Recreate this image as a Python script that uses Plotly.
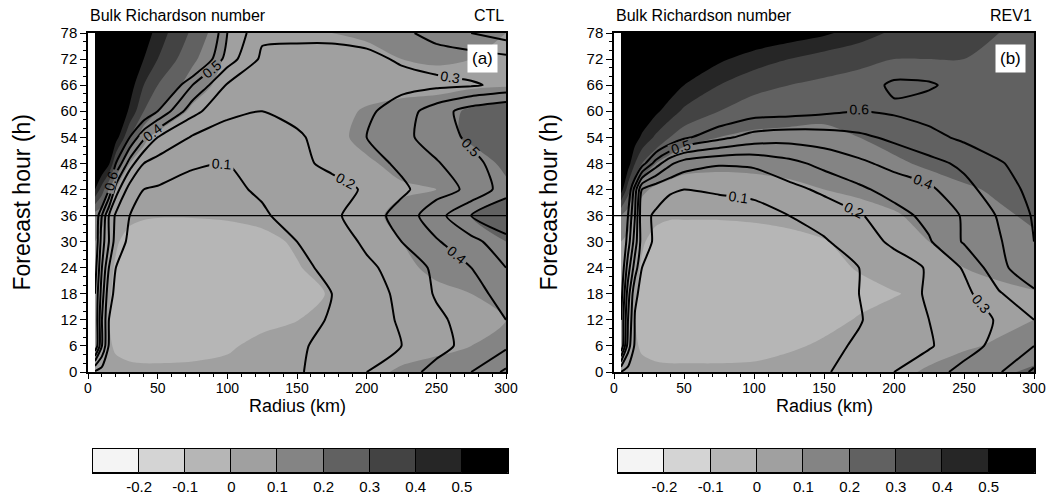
import plotly.graph_objects as go

# ---------------- data ----------------
radius_km = [5, 10, 15, 20, 30, 40, 50, 75, 100, 125, 150, 175, 200, 225, 250, 275, 300]
forecast_hour = [0, 6, 12, 18, 24, 30, 36, 42, 48, 54, 60, 66, 72, 78]

# CTL shaded field (rows = forecast_hour, cols = radius_km)
ctl_shade = [
    [.05, .04, .02, .02, .02, .02, .02, .02, .02, .03, .04, .05, .08, .11, .13, .16, .20],
    [.05, .04, .01, -.01, -.03, -.04, -.04, -.03, -.01, .02, .04, .05, .06, .07, .08, .10, .13],
    [.06, .04, .00, -.02, -.04, -.05, -.05, -.05, -.03, -.02, -.002, .03, .05, .06, .07, .08, .10],
    [.07, .05, .01, -.02, -.05, -.06, -.06, -.06, -.05, -.04, -.02, .005, .04, .07, .09, .10, .12],
    [.08, .06, .02, -.01, -.04, -.06, -.06, -.06, -.05, -.03, -.005, .03, .06, .09, .11, .13, .15],
    [.10, .08, .05, .01, -.03, -.05, -.05, -.05, -.04, -.02, .01, .04, .07, .10, .13, .16, .20],
    [.15, .12, .08, .05, .02, .01, .005, .005, .01, .02, .04, .06, .08, .12, .16, .20, .24],
    [.50, .35, .20, .10, .06, .05, .05, .04, .04, .04, .05, .06, .07, .09, .10, .13, .18],
    [.70, .62, .52, .30, .10, .06, .06, .05, .05, .05, .06, .07, .09, .12, .12, .15, .22],
    [.75, .70, .65, .55, .30, .12, .07, .05, .05, .05, .06, .08, .12, .14, .16, .22, .26],
    [.80, .75, .70, .62, .48, .30, .20, .08, .05, .05, .05, .07, .11, .14, .15, .22, .26],
    [.80, .78, .75, .70, .55, .40, .30, .15, .06, .05, .05, .05, .06, .06, .07, .08, .09],
    [.80, .80, .78, .75, .62, .50, .40, .22, .08, .05, .06, .07, .08, .10, .11, .10, .09],
    [.85, .85, .82, .80, .70, .58, .45, .28, .10, .06, .08, .10, .11, .12, .12, .12, .10],
]

# CTL contoured field (black lines)
ctl_lines = [
    [.08, .05, .04, .04, .04, .04, .04, .05, .06, .07, .09, .14, .20, .26, .33, .40, .52],
    [.60, .30, .09, .05, .04, .04, .04, .05, .06, .07, .09, .12, .16, .20, .27, .33, .38],
    [.60, .30, .10, .06, .05, .05, .05, .05, .06, .07, .08, .105, .16, .21, .28, .34, .40],
    [.60, .35, .13, .08, .06, .05, .05, .05, .06, .07, .08, .10, .16, .22, .31, .37, .43],
    [.65, .40, .20, .10, .07, .06, .06, .06, .06, .07, .08, .12, .18, .24, .32, .40, .50],
    [.70, .45, .30, .15, .08, .07, .07, .07, .07, .08, .10, .14, .22, .30, .39, .47, .56],
    [.70, .50, .30, .18, .10, .08, .08, .08, .08, .09, .13, .18, .25, .34, .46, .60, .70],
    [.90, .80, .60, .35, .15, .10, .09, .085, .085, .11, .14, .17, .21, .28, .36, .42, .55],
    [.95, .90, .80, .60, .35, .20, .16, .105, .10, .13, .18, .22, .26, .32, .39, .47, .55],
    [1.0, .95, .90, .80, .60, .42, .30, .19, .16, .17, .19, .23, .30, .37, .45, .52, .55],
    [1.0, 1.0, .95, .90, .80, .70, .60, .33, .22, .20, .22, .25, .28, .35, .45, .55, .60],
    [1.0, 1.0, 1.0, 1.0, .95, .90, .80, .50, .29, .25, .24, .24, .25, .27, .28, .29, .32],
    [1.0, 1.0, 1.0, 1.0, 1.0, 1.0, .95, .80, .45, .28, .27, .27, .28, .31, .33, .35, .37],
    [1.0, 1.0, 1.0, 1.0, 1.0, 1.0, 1.0, .90, .50, .32, .32, .32, .33, .37, .45, .50, .55],
]

# REV1 shaded field
rev_shade = [
    [.05, .04, .02, .02, .02, .02, .02, .02, .02, .03, .04, .05, .08, .11, .14, .18, .22],
    [.05, .04, .01, -.01, -.03, -.04, -.04, -.04, -.03, -.01, .01, .03, .05, .07, .09, .11, .14],
    [.06, .04, .00, -.02, -.04, -.05, -.05, -.05, -.05, -.04, -.02, .005, .03, .05, .06, .08, .10],
    [.07, .05, .01, -.02, -.05, -.06, -.06, -.06, -.06, -.05, -.04, -.02, -.005, .02, .05, .07, .09],
    [.08, .06, .02, -.01, -.04, -.06, -.06, -.06, -.05, -.04, -.02, .005, .04, .07, .10, .13, .16],
    [.10, .08, .05, .01, -.03, -.05, -.05, -.05, -.04, -.02, -.005, .03, .06, .10, .14, .17, .19],
    [.20, .14, .09, .05, .02, .01, .01, .01, .015, .02, .04, .06, .09, .13, .17, .19, .21],
    [.55, .35, .20, .12, .08, .07, .06, .06, .07, .08, .10, .12, .14, .17, .19, .21, .23],
    [.65, .55, .40, .30, .20, .15, .13, .12, .12, .13, .15, .17, .19, .21, .23, .24, .26],
    [.70, .62, .55, .48, .38, .30, .24, .20, .18, .18, .18, .20, .22, .24, .26, .27, .28],
    [.75, .70, .65, .60, .52, .45, .38, .30, .25, .23, .22, .22, .24, .26, .27, .28, .29],
    [.80, .75, .72, .68, .60, .56, .50, .40, .33, .30, .28, .27, .27, .28, .28, .28, .28],
    [.85, .80, .78, .75, .70, .65, .60, .52, .45, .40, .35, .32, .30, .30, .30, .29, .29],
    [.90, .85, .82, .80, .75, .72, .70, .65, .60, .56, .52, .45, .38, .33, .31, .30, .30],
]

# REV1 contoured field
rev_lines = [
    [.10, .06, .05, .05, .05, .05, .05, .05, .06, .07, .09, .14, .20, .26, .33, .39, .52],
    [.60, .25, .08, .06, .05, .05, .05, .05, .06, .07, .08, .11, .15, .19, .26, .33, .40],
    [.60, .30, .09, .06, .05, .05, .05, .05, .06, .07, .08, .095, .14, .20, .25, .31, .40],
    [.65, .35, .12, .07, .06, .05, .05, .05, .06, .07, .08, .10, .16, .21, .27, .39, .48],
    [.70, .45, .25, .10, .07, .06, .06, .06, .06, .07, .08, .10, .15, .21, .31, .47, .58],
    [.75, .55, .35, .15, .08, .07, .07, .07, .07, .08, .09, .15, .22, .29, .41, .49, .60],
    [.80, .60, .40, .12, .09, .08, .08, .08, .085, .10, .14, .19, .26, .33, .41, .51, .61],
    [.90, .70, .45, .20, .13, .105, .10, .105, .11, .17, .22, .28, .34, .38, .47, .55, .63],
    [.95, .90, .80, .65, .45, .32, .25, .21, .22, .27, .33, .38, .43, .47, .52, .59, .65],
    [1.0, 1.0, .95, .90, .80, .70, .62, .53, .46, .44, .45, .48, .52, .57, .62, .66, .70],
    [1.0, 1.0, 1.0, .95, .90, .85, .80, .70, .65, .64, .62, .595, .615, .64, .66, .68, .70],
    [1.0, 1.0, 1.0, 1.0, .95, .90, .85, .75, .70, .68, .66, .64, .585, .59, .63, .65, .66],
    [1.0, 1.0, 1.0, 1.0, 1.0, 1.0, .95, .85, .75, .72, .70, .68, .66, .66, .66, .66, .66],
    [1.0, 1.0, 1.0, 1.0, 1.0, 1.0, 1.0, .90, .80, .75, .72, .70, .68, .67, .67, .67, .67],
]

shade_levels = [-0.2, -0.1, 0, 0.1, 0.2, 0.3, 0.4, 0.5]
shade_labels = ["-0.2", "-0.1", "0", "0.1", "0.2", "0.3", "0.4", "0.5"]
shade_colors = ["#f4f4f4", "#d4d4d4", "#b6b6b6", "#a0a0a0", "#848484",
                "#616161", "#434343", "#262626", "#000000"]

# ---------------- styling ----------------
FONT = "Liberation Sans, Arial, Helvetica, sans-serif"
n = len(shade_colors)
cscale = []
for j, c in enumerate(shade_colors):
    lo = max(0.0, (2 * j - 1) / (2 * (n - 1)))
    hi = min(1.0, (2 * j + 1) / (2 * (n - 1)))
    cscale.append([lo, c])
    cscale.append([hi, c])

fig = go.Figure()

panels = [
    ("x", "y", ctl_shade, ctl_lines),
    ("x2", "y2", rev_shade, rev_lines),
]
for xa, ya, shade, lines in panels:
    fig.add_trace(go.Contour(
        x=radius_km, y=forecast_hour, z=shade, xaxis=xa, yaxis=ya,
        colorscale=cscale, showscale=False, hoverinfo="skip",
        autocontour=False,
        contours=dict(start=shade_levels[0], end=shade_levels[-1], size=0.1,
                      coloring="fill", showlines=False),
        line=dict(width=0, smoothing=0.8),
    ))
    fig.add_trace(go.Contour(
        x=radius_km, y=forecast_hour, z=lines, xaxis=xa, yaxis=ya,
        showscale=False, hoverinfo="skip", autocontour=False,
        contours=dict(start=0.1, end=0.6, size=0.1, coloring="none",
                      showlabels=True, labelformat=".1f",
                      labelfont=dict(size=14, color="black", family=FONT)),
        line=dict(color="black", width=2, smoothing=0.6),
    ))

# colour bars drawn as boxes
for xa, ya in [("x3", "y3"), ("x4", "y4")]:
    fig.add_trace(go.Bar(
        x=[i + 0.5 for i in range(n)], y=[1] * n, width=1,
        marker=dict(color=shade_colors, line=dict(color="black", width=1)),
        xaxis=xa, yaxis=ya, hoverinfo="skip", showlegend=False,
    ))

W, H = 1054, 496
def px_x(p): return p / W
def px_y(p): return 1 - p / H

main_y = [px_y(372), px_y(33)]
dom_a = [px_x(88), px_x(506)]
dom_b = [px_x(614), px_x(1034)]
cb_y = [px_y(473), px_y(449)]
cb_a = [px_x(93), px_x(508)]
cb_b = [px_x(618), px_x(1035)]

def xmain(dom, anchor):
    return dict(domain=dom, anchor=anchor, range=[0, 300], dtick=50, tick0=0,
                ticks="outside", ticklen=5, tickwidth=1, tickcolor="black",
                minor=dict(dtick=10, ticks="outside", ticklen=3, tickcolor="black", tickwidth=1),
                showline=True, linecolor="black", linewidth=1.5, mirror=True,
                showgrid=False, zeroline=False, ticklabelstandoff=-3,
                tickfont=dict(size=14, family=FONT, color="black"),
                automargin=False)

def ymain(anchor):
    return dict(domain=main_y, anchor=anchor, range=[0, 78], dtick=6, tick0=0,
                ticks="outside", ticklen=6, tickwidth=1, tickcolor="black",
                minor=dict(dtick=2, ticks="outside", ticklen=3, tickcolor="black", tickwidth=1),
                showline=True, linecolor="black", linewidth=1.5, mirror=True,
                showgrid=False, zeroline=False,
                tickfont=dict(size=15, family=FONT, color="black"),
                automargin=False)

def xcb(dom, anchor):
    return dict(domain=dom, anchor=anchor, range=[0, n],
                tickvals=list(range(1, n)), ticktext=shade_labels,
                ticks="", showline=True, linecolor="black", linewidth=1, mirror=True,
                showgrid=False, zeroline=False,
                tickfont=dict(size=15, family=FONT, color="black"), automargin=False)

def ycb(anchor):
    return dict(domain=cb_y, anchor=anchor, range=[0, 1], showticklabels=False,
                ticks="", showline=True, linecolor="black", linewidth=1, mirror=True,
                showgrid=False, zeroline=False, automargin=False)

fig.update_layout(
    width=W, height=H, margin=dict(l=0, r=0, t=0, b=0),
    paper_bgcolor="white", plot_bgcolor="white", showlegend=False, bargap=0,
    font=dict(family=FONT, color="black"),
    xaxis=xmain(dom_a, "y"), yaxis=ymain("x"),
    xaxis2=xmain(dom_b, "y2"), yaxis2=ymain("x2"),
    xaxis3=xcb(cb_a, "y3"), yaxis3=ycb("x3"),
    xaxis4=xcb(cb_b, "y4"), yaxis4=ycb("x4"),
)

for xa, ya in [("x", "y"), ("x2", "y2")]:
    fig.add_shape(type="line", xref=f"{xa} domain", yref=ya, x0=0, x1=1, y0=36, y1=36,
                  line=dict(color="black", width=1.3))

for dom, right, tag, ytitle_x in [(dom_a, "CTL", "(a)", 22), (dom_b, "REV1", "(b)", 549)]:
    fig.add_annotation(x=dom[0], y=px_y(16), xref="paper", yref="paper", text="Bulk Richardson number",
                       showarrow=False, xanchor="left", yanchor="middle",
                       font=dict(size=16, family=FONT, color="black"))
    fig.add_annotation(x=dom[1], y=px_y(16), xref="paper", yref="paper", text=right,
                       showarrow=False, xanchor="right", yanchor="middle",
                       font=dict(size=16, family=FONT, color="black"))
    fig.add_annotation(x=dom[1] - px_x(8), y=px_y(44), xref="paper", yref="paper", text=tag,
                       showarrow=False, xanchor="right", yanchor="top", bgcolor="white",
                       borderpad=4, font=dict(size=17, family=FONT, color="black"))
    # axis titles
    fig.add_annotation(x=(dom[0] + dom[1]) / 2, y=px_y(406), xref="paper", yref="paper",
                       text="Radius (km)", showarrow=False, xanchor="center", yanchor="middle",
                       font=dict(size=18, family=FONT, color="black"))
    fig.add_annotation(x=px_x(ytitle_x), y=(main_y[0] + main_y[1]) / 2, xref="paper", yref="paper",
                       text="Forecast hour (h)", textangle=-90, showarrow=False,
                       xanchor="center", yanchor="middle",
                       font=dict(size=23, family=FONT, color="black"))

fig.write_html("out.html")
